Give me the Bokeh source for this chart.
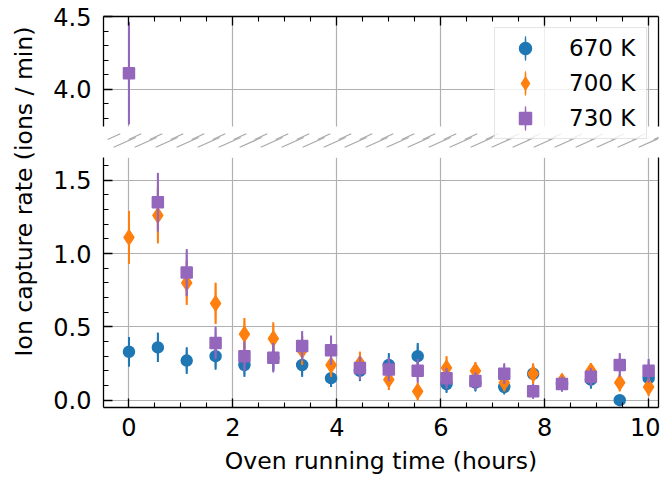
import numpy as np
from math import pi
from bokeh.plotting import figure
from bokeh.models import (ColumnDataSource, Range1d, FixedTicker, LinearAxis,
                          Legend, LegendItem, Label, PrintfTickFormatter)
from bokeh.layouts import row, column
from bokeh.embed import file_html
from bokeh.resources import INLINE

# ---------------- data ----------------
time_h = [0.0, 0.556, 1.111, 1.667, 2.222, 2.778, 3.333, 3.889, 4.444, 5.0,
          5.556, 6.111, 6.667, 7.222, 7.778, 8.333, 8.889, 9.444, 10.0]

rate_670 = [0.33, 0.36, 0.27, 0.30, 0.24, 0.29, 0.24, 0.15, 0.20, 0.24,
            0.30, 0.11, 0.12, 0.09, 0.18, 0.11, 0.14, 0.00, 0.15]
err_670 = [0.10, 0.10, 0.09, 0.09, 0.08, 0.09, 0.08, 0.06, 0.07, 0.08,
           0.09, 0.06, 0.06, 0.05, 0.06, 0.05, 0.06, 0.00, 0.06]

rate_700 = [1.11, 1.26, 0.80, 0.66, 0.45, 0.42, 0.34, 0.24, 0.25, 0.14,
            0.06, 0.22, 0.20, 0.12, 0.18, 0.13, 0.20, 0.12, 0.09]
err_700 = [0.18, 0.19, 0.15, 0.14, 0.11, 0.11, 0.10, 0.08, 0.08, 0.07,
           0.06, 0.08, 0.06, 0.06, 0.07, 0.05, 0.05, 0.06, 0.06]

rate_730 = [4.11, 1.35, 0.87, 0.39, 0.30, 0.29, 0.37, 0.34, 0.22, 0.21,
            0.20, 0.15, 0.13, 0.18, 0.06, 0.11, 0.16, 0.24, 0.20]
err_730 = [0.35, 0.20, 0.16, 0.11, 0.10, 0.10, 0.10, 0.10, 0.08, 0.08,
           0.08, 0.07, 0.06, 0.07, 0.05, 0.05, 0.06, 0.08, 0.08]

series_labels = ["670 K", "700 K", "730 K"]
series_rates = [rate_670, rate_700, rate_730]
series_errs = [err_670, err_700, err_730]
series_colors = ["#1f77b4", "#ff7f0e", "#9467bd"]
series_markers = ["circle", "diamond", "square"]
series_sizes = [11, 15, 11]
legend_index = [0, 7, 4]   # data point whose error bar shape is used in the legend

x_ticks = [0, 2, 4, 6, 8, 10]
x_minor = [0.5, 1, 1.5, 2.5, 3, 3.5, 4.5, 5, 5.5, 6.5, 7, 7.5, 8.5, 9, 9.5]
y_ticks_low = [0.0, 0.5, 1.0, 1.5]
y_minor_low = [0.1, 0.2, 0.3, 0.4, 0.6, 0.7, 0.8, 0.9, 1.1, 1.2, 1.3, 1.4, 1.6]
y_ticks_high = [4.0, 4.5]
y_minor_high = [3.8, 3.9, 4.1, 4.2, 4.3, 4.4]

x_label = "Oven running time (hours)"
y_label = "Ion capture rate (ions / min)"

# ---------------- layout constants ----------------
FONT = "DejaVu Sans"
TICK_FS = "24px"
LABEL_FS = "23.5px"
X_RANGE = (-0.49, 10.19)
LOW = (-0.05, 1.655)
HIGH = (3.745, 4.5)
HIGH_PANEL_PX = 110
GAP_PX = 31
LOW_PANEL_PX = 250
LABEL_W = 48
MAIN_W = 612
BORDER_L = 55
BORDER_R = 2
TOP_BORDER = 16
BOTTOM_BORDER = 71

top_start = HIGH[0] - GAP_PX * (HIGH[1] - HIGH[0]) / HIGH_PANEL_PX

xr = Range1d(*X_RANGE)


def style_axis(ax, ticks, minor, bounds=None, labels=True, standoff=10, fmt=None):
    ax.ticker = FixedTicker(ticks=ticks, minor_ticks=minor)
    ax.axis_line_color = "black"
    ax.axis_line_width = 1.3
    ax.major_tick_line_color = "black"
    ax.major_tick_line_width = 1.3
    ax.minor_tick_line_color = "black"
    ax.minor_tick_line_width = 1.1
    ax.major_tick_in = 9
    ax.major_tick_out = 0
    ax.minor_tick_in = 5
    ax.minor_tick_out = 0
    ax.major_label_text_font = FONT
    ax.major_label_text_color = "black"
    ax.major_label_standoff = standoff
    if fmt is not None:
        ax.formatter = PrintfTickFormatter(format=fmt)
    if labels:
        ax.major_label_text_font_size = TICK_FS
    else:
        ax.major_label_overrides = {t: "" for t in ticks}
        ax.major_label_text_font_size = "0px"
        ax.major_label_standoff = 0
    if bounds is not None:
        ax.bounds = bounds


def bare_axis(bounds=None):
    ax = LinearAxis()
    ax.ticker = FixedTicker(ticks=[])
    ax.axis_line_color = "black"
    ax.axis_line_width = 1.3
    ax.major_tick_in = 0
    ax.major_tick_out = 0
    ax.minor_tick_in = 0
    ax.minor_tick_out = 0
    ax.major_label_standoff = 0
    ax.major_label_text_font_size = "0px"
    if bounds is not None:
        ax.bounds = bounds
    return ax


def draw_series(p):
    out = []
    for rates, errs, col, mk, sz in zip(series_rates, series_errs, series_colors,
                                        series_markers, series_sizes):
        src = ColumnDataSource(dict(
            t=time_h, rate=rates,
            span=[2 * e for e in errs],
            lo=[r - e for r, e in zip(rates, errs)],
            hi=[r + e for r, e in zip(rates, errs)]))
        # thin ellipse lying under each error bar: gives the legend its vertical bar
        ell = p.ellipse(x="t", y="rate", width=1, height="span", width_units="screen",
                        source=src, fill_color=col, line_color=col, line_width=1)
        p.segment(x0="t", y0="lo", x1="t", y1="hi", source=src,
                  line_color=col, line_width=2)
        sc = p.scatter(x="t", y="rate", source=src, marker=mk, size=sz,
                       fill_color=col, line_color=col, line_width=1.5)
        out.append((ell, sc))
    return out


# ---------------- top panel (with gap) ----------------
top = figure(width=MAIN_W, height=TOP_BORDER + HIGH_PANEL_PX + GAP_PX,
             x_range=xr, y_range=Range1d(top_start, HIGH[1]),
             x_axis_location="above", output_backend="svg", toolbar_location=None,
             min_border_left=BORDER_L, min_border_right=BORDER_R,
             min_border_top=TOP_BORDER, min_border_bottom=0)
top.outline_line_color = None
top.background_fill_color = "white"
top.border_fill_color = "white"
style_axis(top.xaxis[0], x_ticks, x_minor, labels=False)
style_axis(top.yaxis[0], y_ticks_high, y_minor_high, bounds=HIGH, standoff=12, fmt="%.1f")
top.add_layout(bare_axis(bounds=HIGH), "right")

top.ygrid.ticker = FixedTicker(ticks=y_ticks_high)
top.xgrid.ticker = FixedTicker(ticks=x_ticks)
for g in (top.xgrid[0], top.ygrid[0]):
    g.grid_line_color = "#b0b0b0"
    g.grid_line_width = 1.2
need_cover = False
try:
    top.xgrid[0].cross_bounds = HIGH
except Exception:
    need_cover = True
if need_cover:
    top.quad(left=X_RANGE[0], right=X_RANGE[1], bottom=top_start, top=HIGH[0],
             fill_color="white", line_color=None)

# break marks in the gap
pxx = (MAIN_W - BORDER_L - BORDER_R) / (X_RANGE[1] - X_RANGE[0])
pxy = (HIGH_PANEL_PX + GAP_PX) / (HIGH[1] - top_start)


def ypage(page_y):
    return HIGH[1] - (page_y - TOP_BORDER) / pxy


starts = np.arange(-0.41, X_RANGE[1] + 0.5, 21 / pxx)
top.segment(x0=starts, y0=[ypage(139.0)] * len(starts),
            x1=starts + 12.6 / pxx, y1=[ypage(133.3)] * len(starts),
            line_color="#a8a8a8", line_width=1.2)
top.segment(x0=starts + 6 / pxx, y0=[ypage(146.7)] * len(starts),
            x1=starts + 28 / pxx, y1=[ypage(137.0)] * len(starts),
            line_color="#a8a8a8", line_width=1.2)

top_renderers = draw_series(top)

legend = Legend(items=[LegendItem(label=lab, renderers=[ell, sc], index=idx)
                       for lab, (ell, sc), idx in zip(series_labels, top_renderers,
                                                      legend_index)],
                location="top_right", margin=11, padding=5, spacing=5,
                glyph_width=50, glyph_height=30, label_standoff=19,
                label_width=72, label_text_font=FONT,
                label_text_font_size="23px", label_text_color="black",
                border_line_color="#cccccc", border_line_width=1.3,
                background_fill_color="white", background_fill_alpha=0.8)
top.add_layout(legend)

# ---------------- bottom panel ----------------
bot = figure(width=MAIN_W, height=LOW_PANEL_PX + BOTTOM_BORDER,
             x_range=xr, y_range=Range1d(*LOW),
             output_backend="svg", toolbar_location=None,
             min_border_left=BORDER_L, min_border_right=BORDER_R,
             min_border_top=0, min_border_bottom=BOTTOM_BORDER)
bot.outline_line_color = None
bot.background_fill_color = "white"
bot.border_fill_color = "white"
style_axis(bot.xaxis[0], x_ticks, x_minor, standoff=10)
style_axis(bot.yaxis[0], y_ticks_low, y_minor_low, standoff=12, fmt="%.1f")
bot.add_layout(bare_axis(), "right")
bot.xaxis.axis_label = x_label
bot.xaxis.axis_label_text_font = FONT
bot.xaxis.axis_label_text_font_size = LABEL_FS
bot.xaxis.axis_label_text_font_style = "normal"
bot.xaxis.axis_label_text_color = "black"
bot.xaxis.axis_label_standoff = 8
bot.xgrid.ticker = FixedTicker(ticks=x_ticks)
bot.ygrid.ticker = FixedTicker(ticks=y_ticks_low)
for g in (bot.xgrid[0], bot.ygrid[0]):
    g.grid_line_color = "#b0b0b0"
    g.grid_line_width = 1.2

draw_series(bot)

# ---------------- y label column ----------------
total_h = TOP_BORDER + HIGH_PANEL_PX + GAP_PX + LOW_PANEL_PX + BOTTOM_BORDER
lab_fig = figure(width=LABEL_W, height=total_h, x_axis_type=None, y_axis_type=None,
                 output_backend="svg", toolbar_location=None,
                 min_border=0, x_range=Range1d(0, 1), y_range=Range1d(0, 1))
lab_fig.outline_line_color = None
lab_fig.add_layout(Label(x=23, y=total_h - 191, x_units="screen", y_units="screen",
                         text=y_label, angle=pi / 2, text_align="center",
                         text_baseline="middle", text_font=FONT,
                         text_font_size=LABEL_FS, text_color="black"))

layout = row(lab_fig, column(top, bot))

open("out.html", "w").write(file_html(layout, INLINE))
